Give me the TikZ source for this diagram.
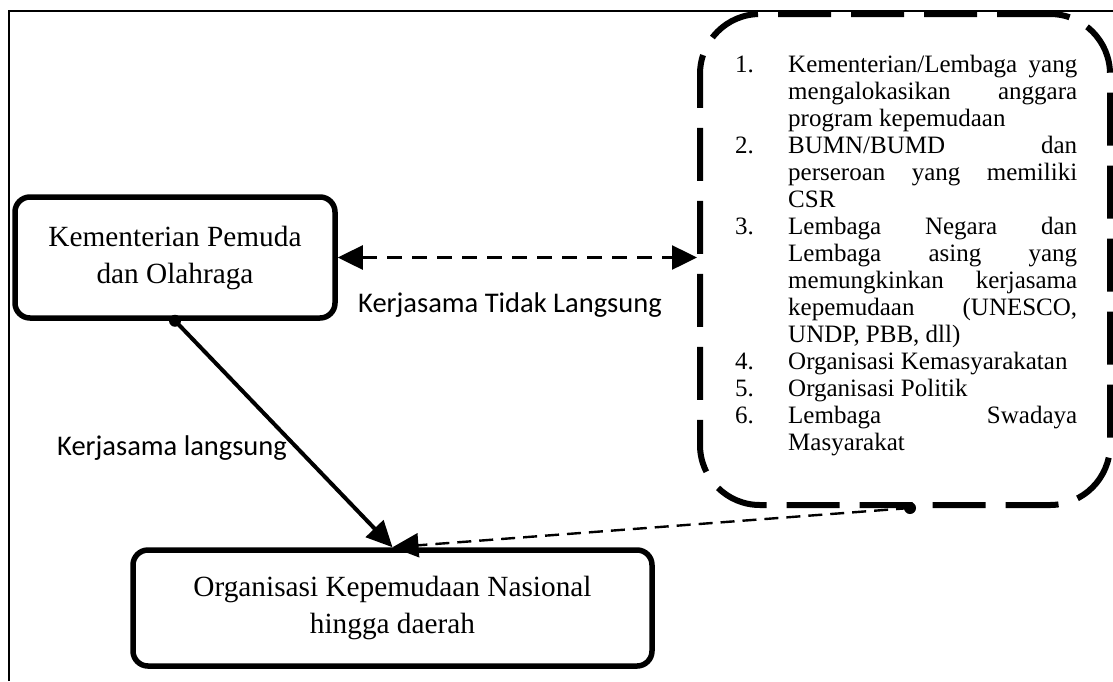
\documentclass[tikz,border=0pt]{standalone}
\usepackage{fontspec}
\setmainfont{Liberation Serif}
\newfontfamily\labelfont{Carlito}
\usetikzlibrary{arrows.meta,calc}

\tikzset{
  unitbox/.style={draw, line width=5.5pt, rounded corners=15pt, inner sep=0pt,
    align=center, font=\fontsize{29.3pt}{37pt}\selectfont},
  groupbox/.style={draw, line width=6pt, rounded corners=60pt, inner sep=0pt,
    dash pattern=on 53pt off 20pt},
  linktext/.style={inner sep=0pt, anchor=base west, font=\labelfont\fontsize{28.5pt}{32pt}\selectfont},
  headtip/.style={-{Triangle[length=26pt,width=24pt]}},
  enddot/.style={fill, circle, inner sep=0pt, minimum size=12pt},
}

\begin{document}
\begin{tikzpicture}[x=1pt, y=-1pt]
\useasboundingbox (0,0) rectangle (1113,681);

% thin outer frame
\draw[line width=1.2pt] (9,681) -- (9,11) -- (1113,11);

% boxes
\node[unitbox, minimum width=320pt, minimum height=121pt] (kemen) at (175,257.5)
  {Kementerian Pemuda\\dan Olahraga};
\node[unitbox, minimum width=519pt, minimum height=116pt] (okp) at (392.5,608)
  {Organisasi Kepemudaan Nasional\\hingga daerah};
\node[groupbox, minimum width=410pt, minimum height=491pt] (mitra) at (905,259.5) {};

% list of partner institutions
\node[inner sep=0pt, anchor=base west] (daftar) at (735,72) {%
  \fontsize{25pt}{27pt}\selectfont
  \begin{tabular}[t]{@{}l@{}}
  \makebox[53pt][l]{1.}\makebox[289pt][s]{Kementerian/Lembaga yang}\\
  \hspace*{53pt}\makebox[289pt][s]{mengalokasikan anggara}\\
  \hspace*{53pt}program kepemudaan\\
  \makebox[53pt][l]{2.}\makebox[289pt][s]{BUMN/BUMD dan}\\
  \hspace*{53pt}\makebox[289pt][s]{perseroan yang memiliki}\\
  \hspace*{53pt}CSR\\
  \makebox[53pt][l]{3.}\makebox[289pt][s]{Lembaga Negara dan}\\
  \hspace*{53pt}\makebox[289pt][s]{Lembaga asing yang}\\
  \hspace*{53pt}\makebox[289pt][s]{memungkinkan kerjasama}\\
  \hspace*{53pt}\makebox[289pt][s]{kepemudaan (UNESCO,}\\
  \hspace*{53pt}UNDP, PBB, dll)\\
  \makebox[53pt][l]{4.}Organisasi Kemasyarakatan\\
  \makebox[53pt][l]{5.}Organisasi Politik\\
  \makebox[53pt][l]{6.}\makebox[289pt][s]{Lembaga Swadaya}\\
  \hspace*{53pt}Masyarakat
  \end{tabular}};

% connectors
\draw[line width=2.5pt, dash pattern=on 15pt off 10pt,
  {Triangle[length=25pt,width=24pt]}-{Triangle[length=25pt,width=24pt]}]
  (kemen.east) -- (kemen.east -| mitra.west);

\node[enddot] (dotA) at (kemen.south) {};
\draw[line width=4pt, headtip] (dotA.center) -- (okp.north);

\coordinate (dotBpos) at (910,508);
\node[enddot] (dotB) at (dotBpos) {};
\draw[line width=2.4pt, dash pattern=on 14pt off 8pt, headtip] (dotB.center) -- (okp.north);

% connector labels
\node[linktext] (lblTidak) at (358,312) {Kerjasama Tidak Langsung};
\node[linktext] (lblLangsung) at (57,455) {Kerjasama langsung};
\end{tikzpicture}
\end{document}
